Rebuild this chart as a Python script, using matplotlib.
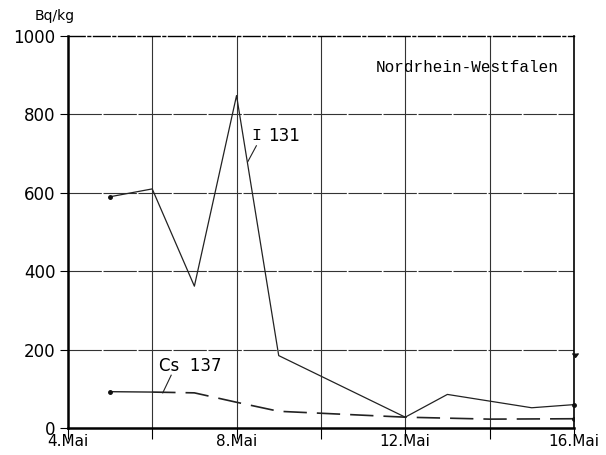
import numpy as np
import matplotlib
matplotlib.use('Agg')
import matplotlib.pyplot as plt

# Messwerte Nordrhein-Westfalen, Tag im Mai
i131_tag = [5, 6, 7, 8, 9, 12, 13, 15, 16]
i131_wert = [590, 610, 362, 848, 185, 28, 86, 52, 60]

cs137_tag = [5, 6, 7, 8, 9, 10, 12, 14, 16]
cs137_wert = [93, 92, 90, 66, 43, 38, 28, 23, 24]

xticks = [4, 8, 12, 16]
xticklabels = ['4.Mai', '8.Mai', '12.Mai', '16.Mai']
yticks = [0, 200, 400, 600, 800, 1000]

fig = plt.figure(figsize=(6.06, 4.55), dpi=100)
ax = fig.add_axes([0.112, 0.059, 0.835, 0.862])

ax.set_xlim(4, 16)
ax.set_ylim(0, 1000)

# Gitter
for d in [6, 8, 10, 12, 14]:
    ax.axvline(d, color='#333333', lw=0.8, zorder=1)
for v in [200, 400, 600, 800]:
    ax.axhline(v, color='#333333', lw=0.8, dashes=(30, 1.5), zorder=1)

ax.plot(i131_tag, i131_wert, color='#222222', lw=0.9, zorder=3)
ax.plot(i131_tag[0], i131_wert[0], 'o', color='#111111', ms=2.5, zorder=4)
ax.plot(cs137_tag[:2], cs137_wert[:2], color='#222222', lw=1.0, zorder=3)
ax.plot(cs137_tag[1:], cs137_wert[1:], color='#222222', lw=1.2,
        dashes=(14, 6), zorder=3)
ax.plot([cs137_tag[0], cs137_tag[-1]], [cs137_wert[0], cs137_wert[-1]], 'o',
        color='#111111', ms=2.5, zorder=4)
ax.plot(16, i131_wert[-1], 'o', color='#111111', ms=2.5, zorder=4, clip_on=False)
ax.plot(16.02, 182, marker=7, color='#111111', ms=4, clip_on=False, zorder=4)

for s in ['left', 'bottom']:
    ax.spines[s].set_linewidth(1.8)
ax.spines['right'].set_linewidth(1.2)
ax.spines['top'].set_linewidth(1.0)
ax.spines['top'].set_linestyle((0, (12, 2, 2, 2)))

ax.set_xticks(xticks)
ax.set_xticklabels(xticklabels)
ax.set_xticks([6, 10, 14], minor=True)
ax.set_yticks(yticks)
ax.tick_params(axis='y', direction='out', length=6, width=0.8, labelsize=12,
               pad=3)
ax.tick_params(axis='x', which='both', direction='out', length=8, width=0.8,
               labelsize=11, pad=-4)

ax.text(-0.066, 1.05, 'Bq/kg', transform=ax.transAxes, fontsize=10,
        ha='left', va='center')
ax.text(0.97, 0.92, 'Nordrhein-Westfalen', transform=ax.transAxes,
        family='Liberation Mono', fontsize=11.5, ha='right', va='center')

ax.text(8.35, 745, 'I', family='Liberation Mono', fontsize=12,
        ha='left', va='center')
ax.text(8.75, 745, '131', fontsize=12, ha='left', va='center')
ax.plot([8.27, 8.47], [680, 720], color='#222222', lw=0.8)
ax.text(6.15, 158, 'Cs  137', fontsize=12, ha='left', va='center')
ax.plot([6.25, 6.45], [90, 135], color='#222222', lw=0.8)

fig.savefig('out.png', dpi=100)
